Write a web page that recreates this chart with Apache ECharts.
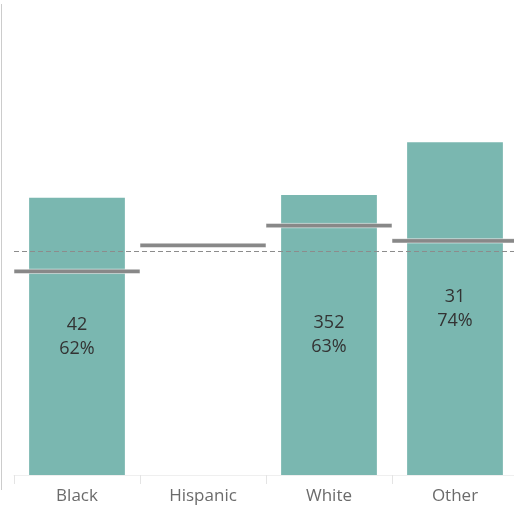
<!DOCTYPE html>
<html><head><meta charset="utf-8">
<script src="https://cdn.jsdelivr.net/npm/echarts@6/dist/echarts.min.js"></script>
<style>html,body{margin:0;padding:0;background:#fff}#c{width:514px;height:507px}</style>
</head><body><div id="c"></div>
<script>
var categories = ['Black', 'Hispanic', 'White', 'Other'];
var barValues = [61.8, null, 62.4, 74.2];
var counts = ['42', '', '352', '31'];
var pctLabels = ['62%', '', '63%', '74%'];
var refValues = [45.4, 51.2, 55.6, 52.2];
var overallRef = 49.8;

var chart = echarts.init(document.getElementById('c'));
chart.setOption({
  animation: false,
  grid: {left: 14, right: -4, top: 4, bottom: 32, containLabel: false, outerBoundsMode: 'none'},
  graphic: [{
    type: 'line', silent: true,
    shape: {x1: 1.5, y1: 4, x2: 1.5, y2: 490},
    style: {stroke: '#cccccc', lineWidth: 1}
  }],
  xAxis: {
    type: 'category', data: categories,
    axisLine: {lineStyle: {color: '#efefef', width: 1}},
    axisTick: {show: true, length: 9, lineStyle: {color: '#e4e4e4'}},
    axisLabel: {color: '#6b6b6b', fontSize: 17, fontFamily: 'Open Sans', margin: 13}
  },
  yAxis: {
    type: 'value', min: 0, max: 105,
    axisLine: {show: false},
    axisTick: {show: false}, axisLabel: {show: false}, splitLine: {show: false}
  },
  series: [{
    type: 'bar', data: barValues, barWidth: '76%',
    itemStyle: {color: '#7ab7b0'},
    label: {
      show: true, position: 'inside', color: '#333333', fontSize: 18,
      fontFamily: 'Open Sans', lineHeight: 24,
      formatter: function (p) { return counts[p.dataIndex] + '\n' + pctLabels[p.dataIndex]; }
    },
    markLine: {
      silent: true, symbol: 'none', label: {show: false},
      lineStyle: {color: '#8c8c8c', type: [5, 3], width: 1},
      data: [{yAxis: overallRef}]
    }
  }, {
    type: 'custom', data: refValues.map(function (v, i) { return [i, v]; }),
    z: 5,
    renderItem: function (params, api) {
      var c = api.coord([api.value(0), api.value(1)]);
      var w = api.size([1, 0])[0];
      return {
        type: 'rect',
        shape: {x: c[0] - w / 2, y: c[1] - 2.2, width: w, height: 4.4},
        style: {fill: '#888888', stroke: 'rgba(255,255,255,0.5)', lineWidth: 1}
      };
    }
  }]
});
</script></body></html>
